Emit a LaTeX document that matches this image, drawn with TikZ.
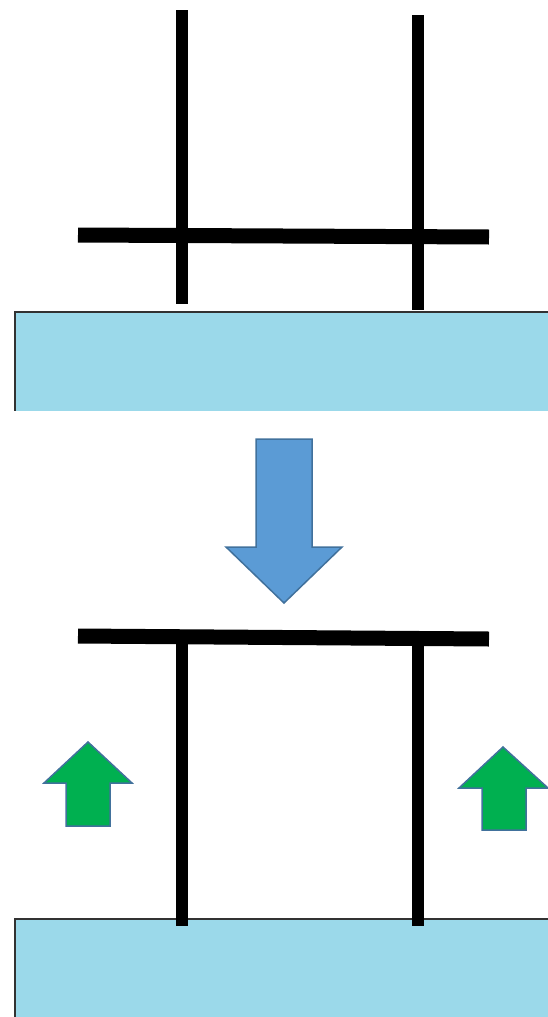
\documentclass[tikz,border=0pt]{standalone}
\begin{document}
\begin{tikzpicture}[x=1pt,y=-1pt,
  bar/.style={line width=12pt,line cap=butt,black},
  hbar/.style={line width=15pt,line cap=butt,black},
  water/.style={fill=waterblue},
  wedge/.style={draw=edgegray,line width=1.2pt},
  bigarrow/.style={fill=arrowblue,draw=arrowedge,line width=1.5pt,line join=miter},
  uparrow/.style={fill=arrowgreen,draw=arrowedge,line width=1.5pt,line join=miter}]
\definecolor{waterblue}{RGB}{155,217,234}
\definecolor{edgegray}{RGB}{50,50,50}
\definecolor{arrowblue}{RGB}{91,155,213}
\definecolor{arrowedge}{RGB}{65,113,156}
\definecolor{arrowgreen}{RGB}{0,176,80}
\useasboundingbox (0,0) rectangle (547,1017);
% top scene
\fill[water] (15,312) rectangle (549,411);
\draw[wedge] (549,312) -- (15,312) -- (15,411);
\draw[bar] (182,10) -- (182,304);
\draw[bar] (418,15) -- (418,310);
\draw[hbar] (78,235) -- (489,237);
% big down arrow
\draw[bigarrow] (256,439) -- (312,439) -- (312,547) -- (342,547) -- (284,603) -- (226,547) -- (256,547) -- cycle;
% bottom scene
\fill[water] (15,919) rectangle (549,1019);
\draw[wedge] (549,919) -- (15,919) -- (15,1019);
\draw[hbar] (78,636) -- (489,639);
\draw[bar] (182,640) -- (182,926);
\draw[bar] (418,640) -- (418,926);
% green up arrows
\draw[uparrow] (66,826) -- (66,783) -- (44,783) -- (88,742) -- (132,783) -- (110,783) -- (110,826) -- cycle;
\draw[uparrow] (482,830) -- (482,788) -- (459,788) -- (503,747) -- (548,788) -- (526,788) -- (526,830) -- cycle;
\end{tikzpicture}
\end{document}
